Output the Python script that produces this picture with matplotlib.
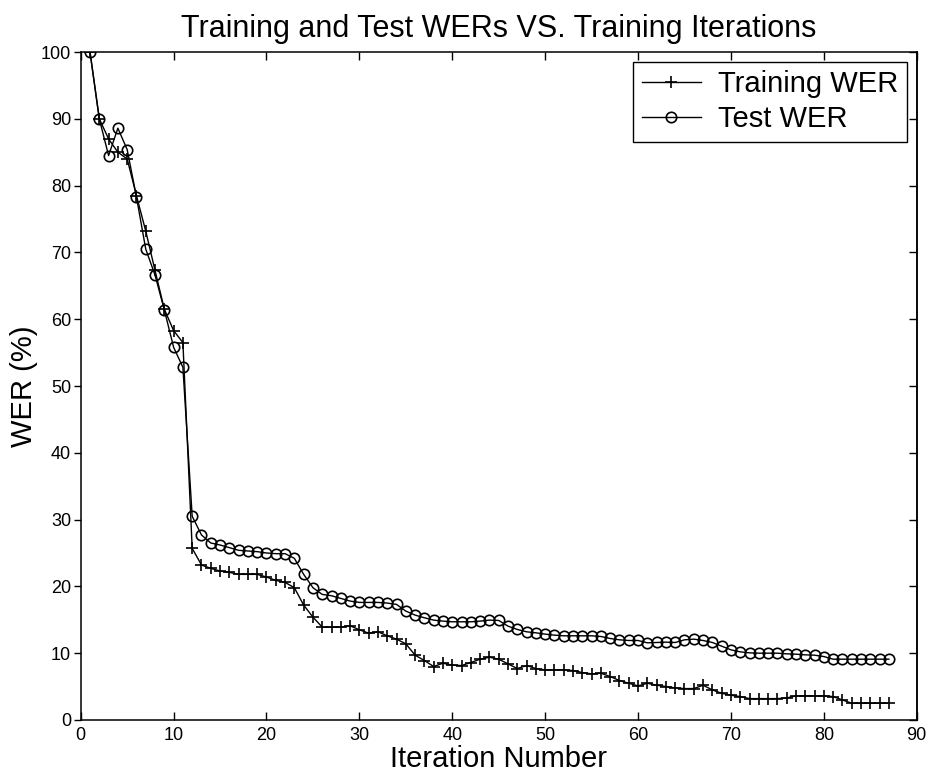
import matplotlib
matplotlib.use("Agg")
import matplotlib.pyplot as plt

plt.rcParams["font.family"] = ["Liberation Sans", "DejaVu Sans"]

# Data
iterations = list(range(1, 88))

training_wer = [100, 90, 87, 85, 84, 78.5, 73.2, 67.3, 61.5, 58.3, 56.5,
                25.7, 23.2, 22.7, 22.3, 22.1, 21.8, 21.8, 21.8, 21.4, 20.9,
                20.6, 19.8, 17.2, 15.4, 13.9, 13.9, 13.9, 14.1, 13.5, 13.0,
                13.2, 12.6, 12.1, 11.4,
                9.7, 8.9, 8.0, 8.5, 8.2, 8.15, 8.6, 9.1, 9.4, 9.1, 8.4, 7.7,
                8.15, 7.7, 7.5, 7.5, 7.5, 7.4, 7.1, 6.9, 7.0, 6.5, 5.9, 5.5,
                5.1, 5.5, 5.2, 5.0, 4.8,
                4.7, 4.7, 5.2, 4.5, 4.0, 3.7, 3.5, 3.2, 3.2, 3.2, 3.2, 3.3,
                3.6, 3.6, 3.6, 3.6, 3.5, 3.0, 2.5, 2.5, 2.5, 2.5, 2.5]

test_wer = [100, 90, 84.5, 88.6, 85.4, 78.3, 70.5, 66.6, 61.4, 55.8, 52.8,
            30.5, 27.7, 26.5, 26.2, 25.8, 25.4, 25.3, 25.2, 25.0, 24.9,
            24.9, 24.2, 21.8, 19.8, 18.8, 18.6, 18.2, 17.8, 17.6, 17.6,
            17.6, 17.5, 17.3, 16.3,
            15.7, 15.3, 14.95, 14.8, 14.7, 14.7, 14.7, 14.8, 14.95, 14.9,
            14.05, 13.55, 13.2, 13.05, 12.85, 12.7, 12.6, 12.6, 12.6, 12.6,
            12.5, 12.2, 12.0, 11.9, 11.9, 11.55, 11.6, 11.65, 11.6,
            12.0, 12.1, 11.9, 11.6, 11.05, 10.5, 10.2, 10.05, 10.0, 10.0,
            10.0, 9.9, 9.85, 9.75, 9.7, 9.5, 9.1, 9.1, 9.1, 9.1, 9.1, 9.1, 9.1]

# ---------- PLOT ----------
fig = plt.figure(figsize=(9.3, 7.77), dpi=100)
ax = fig.add_axes([0.0868, 0.0734, 0.8989, 0.8596])

ax.plot(iterations, training_wer, color="black", lw=1.0, marker="+",
        ms=9, mew=1.2, label="Training WER")
ax.plot(iterations, test_wer, color="black", lw=1.0, marker="o",
        ms=7.5, mew=1.2, mfc="none", label="Test WER")

ax.set_xlim(0, 90)
ax.set_ylim(0, 100)
ax.set_xticks(range(0, 91, 10))
ax.set_yticks(range(0, 101, 10))
ax.tick_params(axis="x", direction="in", length=6, width=1, top=True,
               labelsize=13, pad=5)
ax.tick_params(axis="y", direction="out", length=5, width=1, right=False,
               labelsize=13, pad=2)
# right-hand ticks point inward, as in the reference
rax = ax.secondary_yaxis("right")
rax.set_yticks(range(0, 101, 10))
rax.tick_params(direction="in", length=6, width=1, labelright=False)
for s in list(ax.spines.values()) + [rax.spines["right"]]:
    s.set_linewidth(1.1)

ax.set_title("Training and Test WERs VS. Training Iterations", fontsize=22, pad=11)
ax.set_xlabel("Iteration Number", fontsize=21, labelpad=1)
ax.set_ylabel("WER (%)", fontsize=21, labelpad=2)

leg = ax.legend(loc="upper right", fontsize=21, fancybox=False, framealpha=1,
                edgecolor="black", borderaxespad=0.33, handlelength=2.0,
                handletextpad=0.6, labelspacing=0.22, borderpad=0.3,
                numpoints=1)
leg.get_frame().set_linewidth(1.0)

fig.savefig("out.png", dpi=100)
